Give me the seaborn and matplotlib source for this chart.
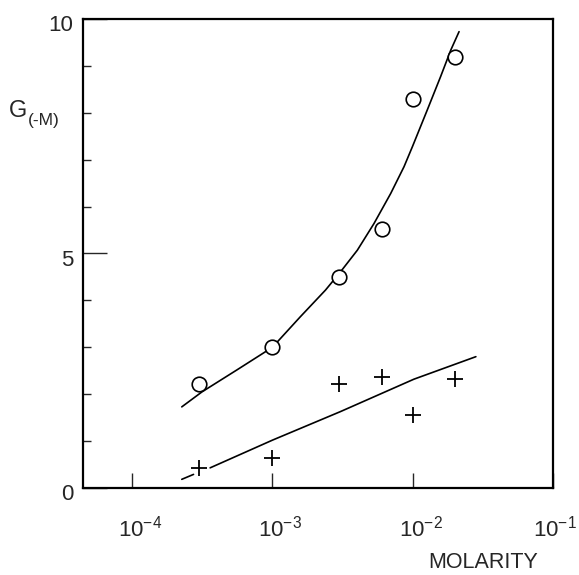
import numpy as np
import pandas as pd
import matplotlib
matplotlib.use("Agg")
import matplotlib.pyplot as plt
from matplotlib.transforms import ScaledTranslation
import seaborn as sns

molarity = [3e-4, 1e-3, 3e-3, 6e-3, 1e-2, 2e-2]
g_circles = [2.21, 3.0, 4.5, 5.52, 8.29, 9.2]
g_crosses = [0.43, 0.63, 2.21, 2.36, 1.56, 2.32]

# hand-drawn curve through the circles
upper_x = [2.26e-4, 3.15e-4, 5.6e-4, 1e-3, 1.58e-3, 2.39e-3, 3.06e-3, 4.03e-3,
           5.3e-3, 6.97e-3, 8.67e-3, 9.96e-3, 1.27e-2, 1.58e-2, 1.87e-2, 2.14e-2]
upper_y = [1.73, 2.05, 2.52, 3.0, 3.65, 4.22, 4.61, 5.07,
           5.64, 6.28, 6.85, 7.28, 8.06, 8.77, 9.34, 9.73]

# line through the crosses (short dash at the start, then the line)
lower_x = [2.26e-4, 2.74e-4, 3.6e-4, 1e-3, 3.06e-3, 1.02e-2, 2.82e-2]
lower_y = [0.185, 0.29, 0.43, 1.02, 1.63, 2.32, 2.80]
lower_seg = [0, 0, 1, 1, 1, 1, 1]

xticks = [1e-4, 1e-3, 1e-2, 1e-1]
xtick_labels = [r"$\mathregular{10^{-4}}$", r"$\mathregular{10^{-3}}$",
                r"$\mathregular{10^{-2}}$", r"$\mathregular{10^{-1}}$"]

sns.set_style("ticks")
plt.rcParams["font.family"] = ["Liberation Sans", "DejaVu Sans"]
plt.rcParams["mathtext.fontset"] = "custom"
plt.rcParams["mathtext.rm"] = "Liberation Sans"

fig = plt.figure(figsize=(5.79, 5.75), dpi=100)
ax = fig.add_axes([83 / 579, 1 - 488 / 575, 470 / 579, 469 / 575])

pts = pd.DataFrame({"M": molarity, "circ": g_circles, "cross": g_crosses})
upper = pd.DataFrame({"M": upper_x, "G": upper_y})
lower = pd.DataFrame({"M": lower_x, "G": lower_y, "seg": lower_seg})

sns.lineplot(data=upper, x="M", y="G", color="black", lw=1.2, sort=False,
             estimator=None, ax=ax)
sns.lineplot(data=lower, x="M", y="G", units="seg", color="black", lw=1.2,
             sort=False, estimator=None, ax=ax)
sns.scatterplot(data=pts, x="M", y="circ", marker="o", s=110, facecolor="white",
                edgecolor="black", linewidth=1.2, zorder=3, ax=ax)
sns.scatterplot(data=pts, x="M", y="cross", marker="+", s=120, color="black",
                linewidth=1.3, zorder=3, ax=ax)

ax.set_xscale("log")
ax.set_xlim(10 ** -4.35, 1e-1)
ax.set_ylim(0, 10)

for side in ["top", "right", "bottom", "left"]:
    ax.spines[side].set_visible(True)
    ax.spines[side].set_linewidth(1.6)
    ax.spines[side].set_color("black")

ax.set_xticks(xticks)
ax.set_xticklabels(xtick_labels)
ax.xaxis.set_minor_locator(matplotlib.ticker.NullLocator())
ax.tick_params(axis="x", direction="in", length=11, width=1.0, pad=20,
               labelsize=16, top=False)
# the "10" sits over the tick, the exponent hangs to the right
shifts = [8, 8, 8, 2]
for lab, dx in zip(ax.get_xticklabels(), shifts):
    lab.set_transform(lab.get_transform() + ScaledTranslation(dx / 100, 0, fig.dpi_scale_trans))

ax.set_yticks([0, 5, 10])
ax.set_yticklabels(["0", "5", "10"])
ax.set_yticks([1, 2, 3, 4, 6, 7, 8, 9], minor=True)
ax.tick_params(axis="y", which="major", direction="in", length=17, width=1.0,
               pad=7, labelsize=16, right=False)
ax.tick_params(axis="y", which="minor", direction="in", length=6, width=1.0, right=False)
for lab in ax.get_yticklabels():
    lab.set_transform(lab.get_transform() + ScaledTranslation(0, -4 / 100, fig.dpi_scale_trans))

ax.set_xlabel("")
ax.set_ylabel("")

fig.text(9 / 579, 1 - 117 / 575, "G", fontsize=17, ha="left", va="baseline")
fig.text(28 / 579, 1 - 125 / 575, "(-M)", fontsize=12.5, ha="left", va="baseline")
fig.text(428 / 579, 1 - 568 / 575, "MOLARITY", fontsize=15.5, ha="left", va="baseline")

fig.savefig("out.png", dpi=100)
